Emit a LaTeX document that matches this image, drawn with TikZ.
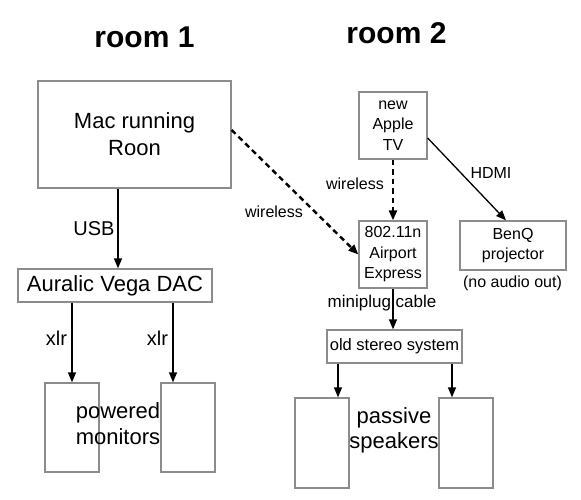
\documentclass[tikz,border=0pt]{standalone}
\usepackage{fontspec}
\setmainfont{Liberation Sans}
\usetikzlibrary{arrows.meta}
\definecolor{boxgray}{gray}{0.55}

\begin{document}
\begin{tikzpicture}[x=1pt, y=-1pt,
		box/.style={draw=boxgray, line width=1.3pt, inner sep=0pt, align=center},
		big/.style={font=\fontsize{22}{27}\selectfont},
		small/.style={font=\fontsize{16}{20.5}\selectfont},
		lbl/.style={inner sep=0pt, align=center},
		link/.style={-{Triangle[length=10pt,width=8pt]}, line width=1.3pt},
		wifi/.style={link, line width=2.4pt, dash pattern=on 5.5pt off 4pt}]
			\useasboundingbox (0,0) rectangle (581,500);

			% titles
			\node[lbl, font=\fontsize{30}{36}\selectfont\bfseries] (room1) at (144.5,37.5) {room 1};
			\node[lbl, font=\fontsize{30}{36}\selectfont\bfseries] (room2) at (396.5,33) {room 2};

			% room 1
			\node[box, big, minimum width=193, minimum height=107] (mac) at (134.5,134.5) {Mac running\\Roon};
			\node[box, big, minimum width=194, minimum height=33] (dac) at (115,285.5) {Auralic Vega DAC};
			\node[box, minimum width=54, minimum height=89] (monL) at (72,427.5) {};
			\node[box, minimum width=54, minimum height=89] (monR) at (188,427.5) {};
			\node[lbl, font=\fontsize{22}{26}\selectfont] (monitors) at (118,424) {powered\\monitors};

			% room 2
			\node[box, small, minimum width=68, minimum height=67] (appletv) at (393,125.5) {new\\Apple\\TV};
			\node[box, small, minimum width=68, minimum height=67] (airport) at (393,254.5) {802.11n\\Airport\\Express};
			\node[box, small, minimum width=106, minimum height=49] (benq) at (513,245.5) {BenQ\\projector};
			\node[lbl, small] (noaudio) at (512.5,283) {(no audio out)};
			\node[box, font=\fontsize{16.5}{20}\selectfont, minimum width=135, minimum height=33] (stereo) at (394.5,346.5) {old stereo system};
			\node[box, minimum width=54, minimum height=90] (spkL) at (322,443) {};
			\node[box, minimum width=54, minimum height=90] (spkR) at (466,443) {};
			\node[lbl, font=\fontsize{22}{25}\selectfont] (speakers) at (394,430) {passive\\speakers};

			% connector labels
			\node[lbl, font=\fontsize{20}{24}\selectfont] (usb) at (94,229) {USB};
			\node[lbl, font=\fontsize{20}{24}\selectfont] (xlrL) at (56.5,338) {xlr};
			\node[lbl, font=\fontsize{20}{24}\selectfont] (xlrR) at (157.5,338) {xlr};
			\node[lbl, small] (wifiL) at (274,212) {wireless};
			\node[lbl, small] (wifiR) at (355,184) {wireless};
			\node[lbl, small] (hdmi) at (491,173) {HDMI};
			\node[lbl, font=\fontsize{17}{20}\selectfont] (miniplug) at (382,303) {miniplug cable};

			% connectors
			\begin{scope}[link]
				\draw ([xshift=-16.5pt]mac.south) -- ([xshift=3pt]dac.north);
				\draw ([xshift=-43pt]dac.south) -- (monL.north);
				\draw ([xshift=58pt]dac.south) -- ([xshift=-15pt]monR.north);
				\draw ([yshift=-12.5pt]appletv.east) -- ([xshift=-7pt]benq.north);
				\draw (airport.south) -- (airport.south |- stereo.north);
				\draw ([xshift=-56.5pt]stereo.south) -- ([xshift=16pt]spkL.north);
				\draw ([xshift=57.5pt]stereo.south) -- ([xshift=-14pt]spkR.north);
			\end{scope}

			\begin{scope}[wifi]
				\draw ([yshift=4.5pt]mac.east) -- (airport.west);
				\draw (appletv.south) -- (airport.north);
			\end{scope}
		\end{tikzpicture}
\end{document}
